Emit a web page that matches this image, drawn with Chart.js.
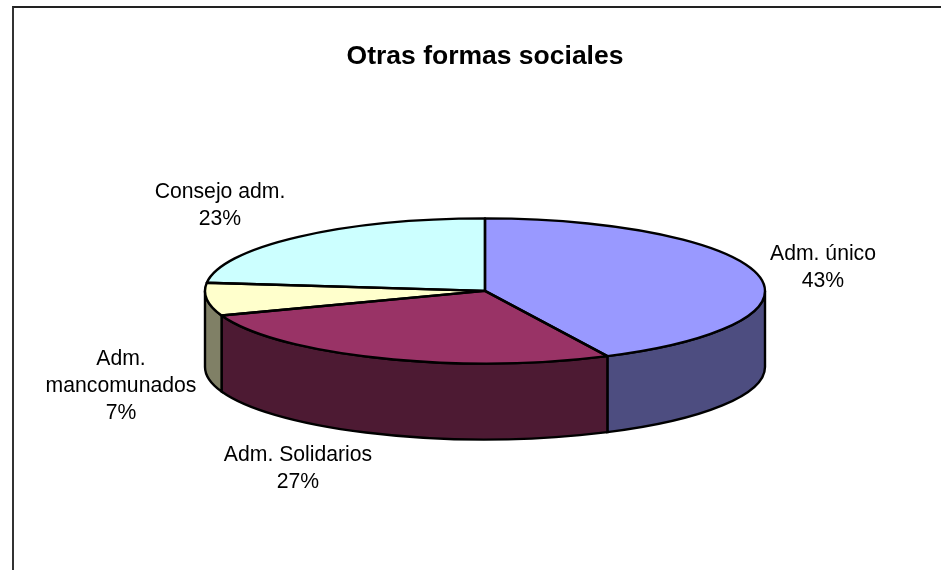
<!DOCTYPE html>
<html lang="es">
<head>
  <meta charset="UTF-8" />
  <title>Otras formas sociales</title>
  <script src="https://cdn.jsdelivr.net/npm/chart.js"></script>
  <style>
    html, body { margin: 0; background: #fff; overflow: hidden; }
    #wrap { position: relative; width: 941px; height: 570px; overflow: hidden; }
    #frame { position: absolute; left: 12px; top: 6px; width: 940px; height: 600px; border-left: 2px solid #333; border-top: 2px solid #222; }
    canvas { position: absolute; left: 0; top: 0; }
  </style>
</head>
<body>
  <div id="wrap">
    <div id="frame"></div>
    <canvas id="pieChart" width="941" height="570"></canvas>
  </div>

  <script>
    // Data (labels round to 43 / 27 / 7 / 23)
    const categories = ['Adm. único', 'Adm. Solidarios', ['Adm.', 'mancomunados'], 'Consejo adm.'];
    const shares = [42.8, 26.7, 7.3, 23.2];
    const topColors = ['#9999FF', '#993366', '#FFFFCC', '#CCFFFF'];
    const sideColors = ['#4D4D80', '#4D1A33', '#808066', '#668080'];

    // Label centres (top of the text block), same order as categories
    const labelSpots = [[823, 241], [298, 442], [121, 346], [220, 179]];

    const tilt = 0.259;   // ellipse height / width
    const depth = 76;     // pie thickness in px
    const edgeWidth = 2.4;

    const pie3d = {
      id: 'pie3d',
      beforeDatasetsDraw(chart) {
        const ctx = chart.ctx;
        const arcs = chart.getDatasetMeta(0).data;
        const cy = arcs[0].y;

        // side walls: only the front half of the rim shows
        ctx.save();
        ctx.lineWidth = edgeWidth;
        ctx.strokeStyle = '#000';
        arcs.forEach((arc, i) => {
          const a0 = Math.max(arc.startAngle, 0);
          const a1 = Math.min(arc.endAngle, Math.PI);
          if (a1 <= a0) return;
          ctx.save();
          ctx.translate(0, cy);
          ctx.scale(1, tilt);
          ctx.translate(0, -cy);
          ctx.beginPath();
          ctx.arc(arc.x, cy, arc.outerRadius, a0, a1);
          ctx.arc(arc.x, cy + depth / tilt, arc.outerRadius, a1, a0, true);
          ctx.closePath();
          ctx.restore();
          ctx.fillStyle = sideColors[i];
          ctx.fill();
          ctx.stroke();
        });
        ctx.restore();

        // the library draws the slices under this squash
        ctx.save();
        ctx.translate(0, cy);
        ctx.scale(1, tilt);
        ctx.translate(0, -cy);
      },
      afterDatasetsDraw(chart) {
        const ctx = chart.ctx;
        ctx.restore();

        const arcs = chart.getDatasetMeta(0).data;
        const cy = arcs[0].y;

        // outlines go here so the line width is not squashed
        ctx.save();
        ctx.lineWidth = edgeWidth;
        ctx.lineJoin = 'round';
        ctx.strokeStyle = '#000';
        arcs.forEach(arc => {
          ctx.save();
          ctx.translate(0, cy);
          ctx.scale(1, tilt);
          ctx.translate(0, -cy);
          ctx.beginPath();
          ctx.moveTo(arc.x, cy);
          ctx.arc(arc.x, cy, arc.outerRadius, arc.startAngle, arc.endAngle);
          ctx.closePath();
          ctx.restore();
          ctx.stroke();
        });
        ctx.restore();

        // slice labels
        ctx.save();
        ctx.font = '21.2px "Liberation Sans", Arial, sans-serif';
        ctx.fillStyle = '#000';
        ctx.textAlign = 'center';
        ctx.textBaseline = 'middle';
        categories.forEach((cat, i) => {
          const lines = [].concat(cat, Math.round(shares[i]) + '%');
          lines.forEach((line, j) => {
            ctx.fillText(line, labelSpots[i][0], labelSpots[i][1] + 13 + j * 27);
          });
        });
        ctx.restore();
      }
    };

    new Chart(document.getElementById('pieChart'), {
      type: 'pie',
      data: {
        labels: categories,
        datasets: [{
          data: shares,
          backgroundColor: topColors,
          borderWidth: 0,
          radius: 280,
          clip: false
        }]
      },
      options: {
        responsive: false,
        animation: false,
        layout: { padding: { left: 29, top: 0, right: 0, bottom: 71 } },
        plugins: {
          legend: { display: false },
          tooltip: { enabled: false },
          title: {
            display: true,
            text: 'Otras formas sociales',
            color: '#000',
            font: { family: '"Liberation Sans", Arial, sans-serif', size: 26.5, weight: 'bold' },
            padding: { top: 41, bottom: 10 }
          }
        }
      },
      plugins: [pie3d]
    });
  </script>
</body>
</html>
